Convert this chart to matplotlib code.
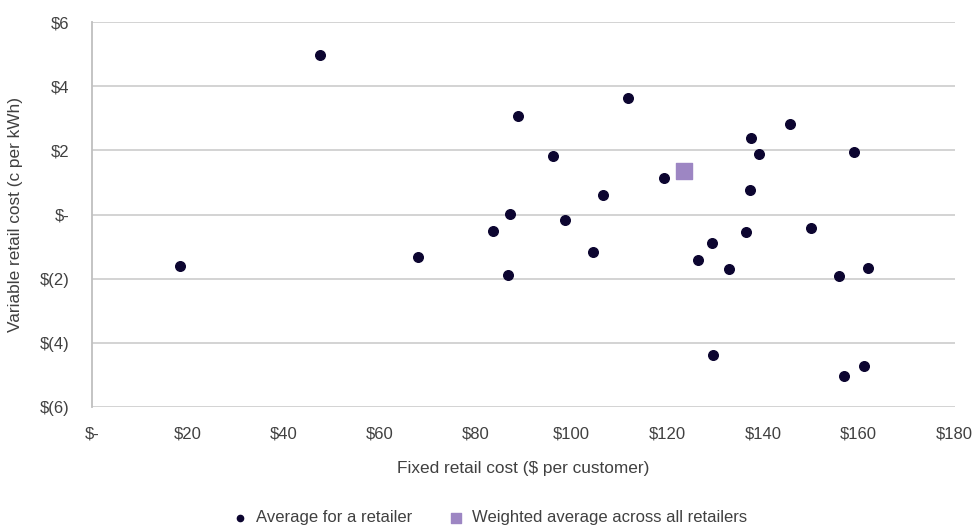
import matplotlib.pyplot as plt
from matplotlib.ticker import FixedLocator

plt.rcParams["font.family"] = ["Liberation Sans Narrow", "Liberation Sans", "DejaVu Sans"]

# retailer averages: fixed cost ($ per customer), variable cost (c per kWh)
fixed_cost = [18.4, 47.6, 68.0, 83.6, 87.2, 86.9, 88.9, 96.2, 98.7, 104.5,
              106.6, 111.8, 119.3, 126.4, 129.5, 129.7, 132.9, 136.4, 137.3, 137.5,
              139.1, 145.6, 150.0, 155.8, 159.0, 156.9, 161.2, 161.9]
variable_cost = [-1.60, 4.97, -1.32, -0.51, 0.03, -1.88, 3.07, 1.82, -0.16, -1.17,
                 0.61, 3.63, 1.14, -1.42, -0.90, -4.36, -1.68, -0.55, 0.76, 2.38,
                 1.90, 2.82, -0.42, -1.92, 1.95, -5.03, -4.73, -1.67]

# weighted average across all retailers
avg_fixed = [123.5]
avg_variable = [1.35]

x_ticks = [0, 20, 40, 60, 80, 100, 120, 140, 160, 180]
x_labels = ["$-", "$20", "$40", "$60", "$80", "$100", "$120", "$140", "$160", "$180"]
y_ticks = [6, 4, 2, 0, -2, -4, -6]
y_labels = ["$6", "$4", "$2", "$-", "$(2)", "$(4)", "$(6)"]

text_col = "#404040"
fig = plt.figure(figsize=(9.77, 5.26), dpi=100)
ax = fig.add_axes([0.094, 0.226, 0.883, 0.732])

ax.scatter(fixed_cost, variable_cost, s=48, color="#0c0530", zorder=3,
           label="Average for a retailer")
ax.scatter(avg_fixed, avg_variable, s=130, marker="s", color="#9d86c3", zorder=3,
           label="Weighted average across all retailers")

ax.set_xlim(0, 180)
ax.set_ylim(-6, 6)
ax.xaxis.set_major_locator(FixedLocator(x_ticks))
ax.set_xticklabels(x_labels)
ax.yaxis.set_major_locator(FixedLocator(y_ticks))
ax.set_yticklabels(y_labels)
ax.tick_params(length=0, labelsize=12, colors=text_col, pad=14)
ax.tick_params(axis="y", pad=16)

ax.grid(axis="y", color="#d0d0d0", linewidth=1.3)
ax.set_axisbelow(True)
for side in ["top", "right", "bottom"]:
    ax.spines[side].set_visible(False)
ax.spines["left"].set_color("#bfbfbf")
ax.spines["left"].set_linewidth(1.3)

ax.set_xlabel("Fixed retail cost ($ per customer)", fontsize=12.4, color=text_col, labelpad=14)
ax.set_ylabel("Variable retail cost (c per kWh)", fontsize=12.4, color=text_col, labelpad=12)

leg = ax.legend(loc="upper center", bbox_to_anchor=(0.456, -0.228), ncol=2, frameon=False,
                fontsize=12, handletextpad=0.0, columnspacing=1.6, markerscale=0.65)
for t in leg.get_texts():
    t.set_color(text_col)

fig.savefig("out.png", dpi=100)
